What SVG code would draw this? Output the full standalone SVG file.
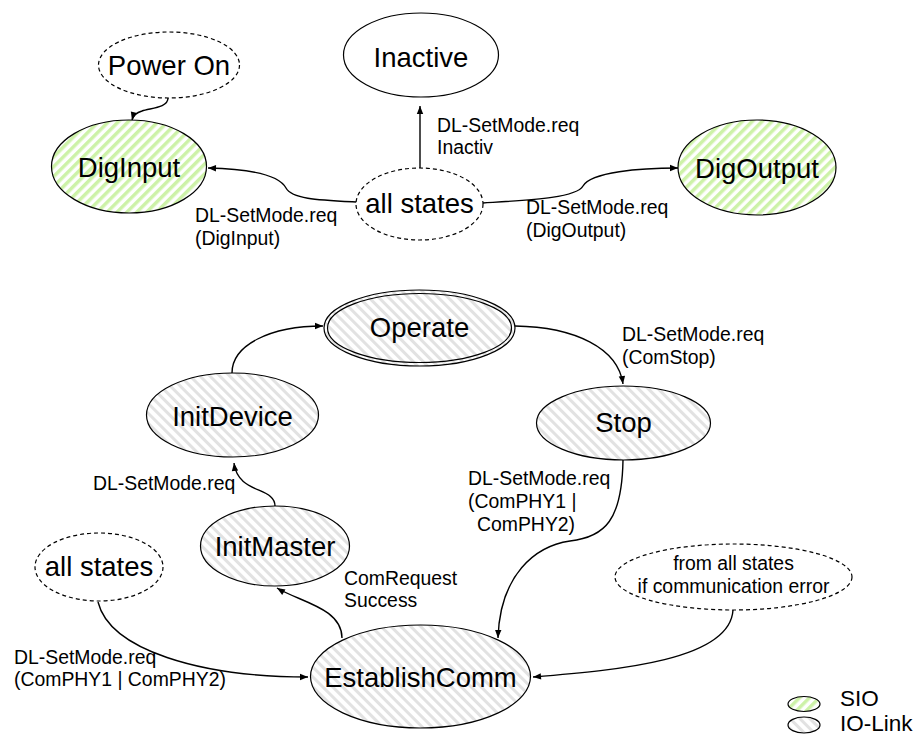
<svg xmlns="http://www.w3.org/2000/svg" width="922" height="735" viewBox="0 0 922 735">
  <defs>
    <!-- diagonal hatch fills: green for SIO states, grey for IO-Link states -->
    <pattern id="hatchSio" patternUnits="userSpaceOnUse" width="7" height="7" patternTransform="rotate(45)">
      <rect width="7" height="7" fill="#ffffff"/>
      <rect width="3.5" height="7" fill="#cdf2a8"/>
    </pattern>
    <pattern id="hatchLink" patternUnits="userSpaceOnUse" width="7" height="7" patternTransform="rotate(-45)">
      <rect width="7" height="7" fill="#ffffff"/>
      <rect width="3" height="7" fill="#e2e2e2"/>
    </pattern>
    <marker id="arrow" viewBox="0 0 10 10" refX="10" refY="5" markerWidth="9" markerHeight="8" markerUnits="userSpaceOnUse" orient="auto">
      <path d="M0,1 L10,5 L0,9 z" fill="#000"/>
    </marker>
  </defs>
  <style>
    .node { stroke: #000; stroke-width: 1.2; }
    .plain { fill: #fff; }
    .sio { fill: url(#hatchSio); }
    .link { fill: url(#hatchLink); }
    .pseudo { fill: #fff; stroke-dasharray: 4 3; }
    .name { font-family: "Liberation Sans", Arial, sans-serif; font-size: 27.5px; fill: #000; text-anchor: middle; }
    .lbl { font-family: "Liberation Sans", Arial, sans-serif; font-size: 19.4px; fill: #000; }
    .legend { font-family: "Liberation Sans", Arial, sans-serif; font-size: 22.5px; fill: #000; }
    .edge { fill: none; stroke: #000; stroke-width: 1.4; marker-end: url(#arrow); }
  </style>
  <rect width="922" height="735" fill="#fff"/>

  <!-- connectors -->
  <g id="connectors">
    <path class="edge" d="M168,98 C168,108 150,108 142,111 C135,113 133,116 132,120"/>
    <path class="edge" d="M356,202 C318,200 292,199 286,188 C279,175 250,169 208,168"/>
    <path class="edge" d="M420,168 L420,106"/>
    <path class="edge" d="M483,203 C530,200 576,198 583,186 C591,172 640,168 678,168"/>
    <path class="edge" d="M232,373 C232,345 270,326 323,326"/>
    <path class="edge" d="M515,326 C575,327 618,348 623,384"/>
    <path class="edge" d="M623,460 C622,520 605,537 570,541 C535,546 500,575 498,638"/>
    <path class="edge" d="M275,507 C276,486 238,495 234,463"/>
    <path class="edge" d="M342,638 C342,608 300,602 277,588"/>
    <path class="edge" d="M98,602 C110,650 200,677 308,677"/>
    <path class="edge" d="M733,610 C730,660 620,670 533,677"/>

    <text class="lbl" x="195" y="222">DL-SetMode.req</text>
    <text class="lbl" x="195" y="245">(DigInput)</text>
    <text class="lbl" x="437" y="132">DL-SetMode.req</text>
    <text class="lbl" x="437" y="154">Inactiv</text>
    <text class="lbl" x="526" y="214">DL-SetMode.req</text>
    <text class="lbl" x="526" y="237">(DigOutput)</text>
    <text class="lbl" x="622" y="341">DL-SetMode.req</text>
    <text class="lbl" x="622" y="364">(ComStop)</text>
    <text class="lbl" x="93" y="490">DL-SetMode.req</text>
    <text class="lbl" x="468" y="485">DL-SetMode.req</text>
    <text class="lbl" x="468" y="508">(ComPHY1 |</text>
    <text class="lbl" x="477" y="531">ComPHY2)</text>
    <text class="lbl" x="344" y="585">ComRequest</text>
    <text class="lbl" x="344" y="607">Success</text>
    <text class="lbl" x="14" y="664">DL-SetMode.req</text>
    <text class="lbl" x="14" y="686">(ComPHY1 | ComPHY2)</text>
  </g>

  <!-- SIO part -->
  <g id="power-on">
    <ellipse class="node pseudo" cx="169" cy="65" rx="70.5" ry="33"/>
    <text class="name" x="169" y="75">Power On</text>
  </g>
  <g id="inactive">
    <ellipse class="node plain" cx="421" cy="55" rx="77.5" ry="42"/>
    <text class="name" x="421" y="67">Inactive</text>
  </g>
  <g id="dig-input">
    <ellipse class="node sio" cx="129" cy="166.5" rx="77.5" ry="46.5"/>
    <text class="name" x="129" y="177">DigInput</text>
  </g>
  <g id="all-states-top">
    <ellipse class="node pseudo" cx="419.5" cy="204" rx="63.5" ry="36"/>
    <text class="name" x="419.5" y="213">all states</text>
  </g>
  <g id="dig-output">
    <ellipse class="node sio" cx="757" cy="167.5" rx="79" ry="47.5"/>
    <text class="name" x="757" y="178">DigOutput</text>
  </g>

  <!-- IO-Link part -->
  <g id="operate">
    <ellipse class="node link" cx="419.5" cy="328" rx="95.5" ry="38"/>
    <ellipse class="node" fill="none" cx="419.5" cy="328" rx="92" ry="34.5"/>
    <text class="name" x="419.5" y="337">Operate</text>
  </g>
  <g id="init-device">
    <ellipse class="node link" cx="232.5" cy="415" rx="86" ry="42"/>
    <text class="name" x="232.5" y="426">InitDevice</text>
  </g>
  <g id="stop">
    <ellipse class="node link" cx="623.5" cy="423" rx="87" ry="37"/>
    <text class="name" x="623.5" y="432">Stop</text>
  </g>
  <g id="init-master">
    <ellipse class="node link" cx="275" cy="546" rx="74.5" ry="40"/>
    <text class="name" x="275" y="556">InitMaster</text>
  </g>
  <g id="all-states-bottom">
    <ellipse class="node pseudo" cx="99" cy="567" rx="64" ry="34"/>
    <text class="name" x="99" y="576">all states</text>
  </g>
  <g id="comm-error">
    <ellipse class="node pseudo" cx="733.5" cy="577" rx="118.5" ry="33"/>
    <text class="lbl" x="733.5" y="570" text-anchor="middle">from all states</text>
    <text class="lbl" x="733.5" y="593" text-anchor="middle">if communication error</text>
  </g>
  <g id="establish-comm">
    <ellipse class="node link" cx="420.5" cy="676.5" rx="110" ry="51.5"/>
    <text class="name" x="420.5" y="687">EstablishComm</text>
  </g>

  <!-- legend -->
  <g id="legend">
    <ellipse class="node sio" cx="804" cy="704" rx="16" ry="7.5"/>
    <ellipse class="node link" cx="804" cy="725" rx="16" ry="8"/>
    <text class="legend" x="840" y="706">SIO</text>
    <text class="legend" x="840" y="731">IO-Link</text>
  </g>
</svg>
